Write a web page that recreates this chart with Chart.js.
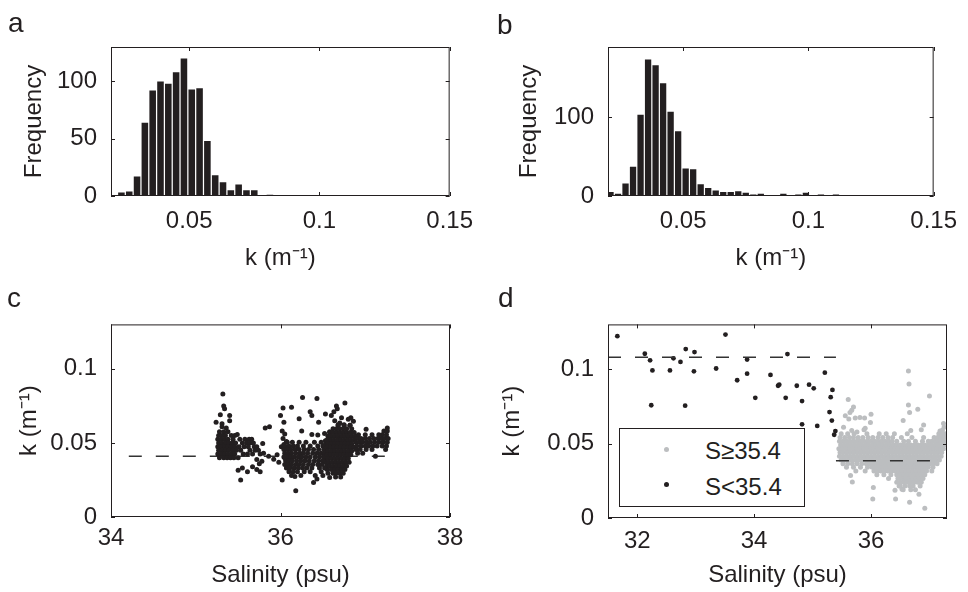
<!DOCTYPE html>
<html lang="en">
<head>
<meta charset="UTF-8">
<title>k histograms and k vs salinity</title>
<script src="https://cdn.jsdelivr.net/npm/chart.js"></script>
<style>
  body { margin: 0; background: #fff; }
  #fig { position: relative; width: 968px; height: 592px; font-family: 'Liberation Sans', Arial, Helvetica, sans-serif; color: #231f20; }
  #fig canvas { position: absolute; }
  .letter { position: absolute; font-size: 28px; line-height: 28px; }
  #legend { position: absolute; left: 619px; top: 428px; width: 186px; height: 79px; box-sizing: border-box;
            border: 1px solid #231f20; background: #fff; }
  .ldot { position: absolute; width: 5px; height: 5px; border-radius: 50%; }
  .ltxt { position: absolute; left: 85px; font-size: 24px; line-height: 24px; white-space: nowrap; }
</style>
</head>
<body>
<div id="fig">
  <canvas id="chartA" width="484" height="296" style="left:0;top:0"></canvas>
  <canvas id="chartB" width="484" height="296" style="left:484px;top:0"></canvas>
  <canvas id="chartC" width="484" height="296" style="left:0;top:296px"></canvas>
  <canvas id="chartD" width="484" height="296" style="left:484px;top:296px"></canvas>

  <div class="letter" style="left:8px;top:9px">a</div>
  <div class="letter" style="left:497px;top:11px">b</div>
  <div class="letter" style="left:7px;top:284px">c</div>
  <div class="letter" style="left:498px;top:284px">d</div>

  <div id="legend">
    <span class="ldot" style="left:44px;top:18px;background:#bcbec0"></span>
    <span class="ltxt" style="top:10px">S≥35.4</span>
    <span class="ldot" style="left:44px;top:53px;background:#231f20"></span>
    <span class="ltxt" style="top:46px">S&lt;35.4</span>
  </div>
</div>

<script>
// ---- histogram a : all stations ----
const binsA = [0.024, 0.027, 0.030, 0.033, 0.036, 0.039, 0.042, 0.045, 0.048, 0.051,
               0.054, 0.057, 0.060, 0.063, 0.066, 0.069, 0.072, 0.075, 0.078, 0.081];
const countsA = [3, 4, 17, 64, 92, 100, 98, 108, 120, 93, 94, 48, 18, 12, 5, 10, 5, 5, 0, 1];

// ---- histogram b ----
const binsB = [0.021, 0.024, 0.027, 0.030, 0.033, 0.036, 0.039, 0.042, 0.045, 0.048, 0.051,
               0.054, 0.057, 0.060, 0.063, 0.066, 0.069, 0.072, 0.075, 0.078, 0.081, 0.084,
               0.087, 0.090, 0.093, 0.096, 0.099, 0.102, 0.105, 0.108, 0.111, 0.114, 0.117,
               0.120, 0.123, 0.126, 0.129, 0.132, 0.135, 0.138, 0.141, 0.144, 0.147, 0.150];
const countsB = [5, 3, 16, 37, 103, 173, 166, 143, 107, 82, 35, 34, 15, 10, 7, 5, 5, 6, 4, 2,
                 3, 0, 1, 3, 0, 2, 4, 0, 2, 0, 2, 0, 0, 0, 1, 0, 0, 0, 0, 0, 0, 0, 0, 1];

// ---- tick labels ----
const kTicksHist = [0.05, 0.1, 0.15];
const freqTicksA = [0, 50, 100];
const freqTicksB = [0, 100];
const salTicksC = [34, 36, 38];
const salTicksD = [32, 34, 36];
const kTicks = [0, 0.05, 0.1];

// ---- panel c : scattered points [salinity, k] ----
const cPoints = [
  [35.32,0.083],[35.33,0.075],[35.34,0.073],[35.29,0.069],[35.40,0.0685],[35.40,0.065],[35.24,0.064],
  [35.31,0.063],[35.31,0.061],[35.36,0.060],[35.49,0.0557],
  [35.79,0.0496],[35.82,0.060],[35.87,0.061],[35.80,0.043],[35.86,0.041],[35.96,0.042],[35.92,0.039],
  [35.98,0.037],[36.05,0.040],
  [35.50,0.0315],[35.55,0.033],[35.61,0.0306],[35.67,0.034],[35.72,0.032],[35.76,0.0306],[35.78,0.0377],
  [35.72,0.0388],[35.75,0.036],[35.53,0.025],[36.02,0.025],[36.18,0.0178],
  [36.03,0.0736],[36.13,0.074],[36.00,0.0685],[36.04,0.064],[36.26,0.0806],[36.22,0.0663],[36.43,0.080],
  [36.66,0.075],[36.67,0.073],[36.63,0.071],[36.60,0.0685],[36.76,0.077],[36.35,0.071],[36.37,0.0685],
  [36.53,0.0696],[36.45,0.064],[36.83,0.067],[36.86,0.0646],
  [36.02,0.058],[36.05,0.056],[36.03,0.053],[36.07,0.051],[36.04,0.049],[36.09,0.047],[36.06,0.046],[36.01,0.0475],
  [36.25,0.058],[36.37,0.0557],[36.44,0.0553],[36.52,0.0564],[36.58,0.0575],[36.68,0.0623],[36.75,0.0623],
  [36.82,0.0619],[37.01,0.0593],
  [36.43,0.0256],[36.39,0.0233],[36.58,0.0266],[36.17,0.0273],[37.12,0.041],[37.26,0.060],
  [36.64,0.065],[36.72,0.067],[36.80,0.066],[36.70,0.0635],
  [36.53,0.0515],[36.53,0.049],[36.535,0.044],[36.53,0.0415],[36.53,0.0395],[36.53,0.037],[36.545,0.0345],
  [36.55,0.032],[36.56,0.0295]
];
// dense parts of panel c, one row per k level: [k, [salinities]]
const cRows = [
  [0.0575, [35.28,35.33,35.38]],
  [0.055,  [35.27,35.31,35.35,35.42,35.46]],
  [0.0525, [35.26,35.30,35.34,35.38,35.44,35.52,35.58,35.63,35.66]],
  [0.050,  [35.27,35.31,35.35,35.39,35.43,35.47,35.55,35.60,35.64,35.68]],
  [0.0475, [35.26,35.30,35.34,35.38,35.42,35.46,35.51,35.57,35.62,35.69,35.72]],
  [0.045,  [35.27,35.31,35.35,35.39,35.44,35.48,35.53,35.64,35.70,35.74]],
  [0.0425, [35.26,35.30,35.34,35.38,35.42,35.46,35.56,35.61,35.67,35.76]],
  [0.040,  [35.28,35.33,35.37,35.41,35.45,35.50]],
  [0.0505, [36.08,36.14,36.22,36.30,36.40,36.48]],
  [0.048,  [36.05,36.10,36.15,36.20,36.27,36.35,36.44,36.50]],
  [0.0455, [36.04,36.08,36.12,36.17,36.22,36.28,36.33,36.39,36.45,36.51]],
  [0.043,  [36.05,36.09,36.13,36.18,36.23,36.27,36.32,36.38,36.43,36.48,36.52]],
  [0.0405, [36.04,36.08,36.12,36.16,36.21,36.25,36.30,36.35,36.41,36.46,36.51]],
  [0.038,  [36.06,36.10,36.14,36.19,36.24,36.29,36.34,36.40,36.45,36.50]],
  [0.0355, [36.05,36.09,36.13,36.18,36.22,36.27,36.33,36.38,36.44,36.49]],
  [0.033,  [36.07,36.11,36.16,36.21,36.26,36.31,36.37,36.46,36.52]],
  [0.0305, [36.10,36.15,36.20,36.28,36.35,36.48]],
  [0.028,  [36.13,36.24,36.41,36.50]],
  [0.062,  [36.68,36.75,36.82]],
  [0.0595, [36.62,36.66,36.70,36.74,36.78,36.84]],
  [0.057,  [36.58,36.62,36.66,36.70,36.74,36.78,36.82,36.87]],
  [0.0545, [36.56,36.60,36.64,36.68,36.72,36.76,36.80,36.84,36.88]],
  [0.052,  [36.55,36.59,36.63,36.67,36.71,36.75,36.79,36.83,36.87]],
  [0.0495, [36.56,36.60,36.64,36.68,36.72,36.76,36.80,36.84]],
  [0.047,  [36.55,36.59,36.63,36.67,36.71,36.75,36.79,36.83,36.87]],
  [0.0445, [36.56,36.60,36.64,36.68,36.72,36.76,36.80,36.84]],
  [0.042,  [36.55,36.59,36.63,36.67,36.71,36.75,36.79,36.83]],
  [0.0395, [36.56,36.60,36.64,36.68,36.72,36.76,36.80]],
  [0.037,  [36.57,36.61,36.65,36.69,36.73,36.77,36.81]],
  [0.0345, [36.58,36.62,36.66,36.70,36.74,36.78]],
  [0.032,  [36.60,36.64,36.68,36.72,36.76]],
  [0.0295, [36.62,36.66,36.70,36.74]],
  [0.027,  [36.65,36.71]],
  [0.058,  [37.22,37.26]],
  [0.0555, [36.92,37.00,37.08,37.16,37.20,37.25]],
  [0.053,  [36.90,36.95,37.00,37.05,37.10,37.15,37.19,37.23,37.27]],
  [0.0505, [36.89,36.93,36.97,37.02,37.06,37.11,37.16,37.21,37.26]],
  [0.048,  [36.90,36.95,37.00,37.04,37.09,37.14,37.20,37.25]],
  [0.0455, [36.89,36.94,37.01,37.08,37.24]],
  [0.043,  [36.91,36.97]]
];
const cMeanLine = [[34.21, 0.041], [37.29, 0.041]];

// ---- panel d ----
const dLow = [
  [31.66,0.1221],[32.13,0.1103],[32.22,0.1059],[32.26,0.0991],[32.24,0.0757],[32.56,0.0991],[32.62,0.1072],
  [32.74,0.1048],[32.83,0.1134],[32.82,0.0754],[32.98,0.1114],[32.97,0.0985],[33.35,0.1004],[33.51,0.1232],
  [33.71,0.0925],[33.88,0.1064],[33.88,0.0969],[34.02,0.0807],[34.28,0.0961],[34.41,0.0888],[34.43,0.0895],
  [34.54,0.0807],[34.57,0.1101],[34.73,0.0888],[34.82,0.0785],[34.82,0.0629],[34.94,0.0895],[35.02,0.0871],
  [35.08,0.0618],[35.21,0.0976],[35.34,0.0860],[35.31,0.0811],[35.29,0.0711],[35.33,0.0654],[35.37,0.0559],
  [35.39,0.0584]
];
const dHighPoints = [
  [35.61,0.0796],[35.70,0.0746],[35.67,0.0724],[35.64,0.0708],[35.56,0.0686],[35.62,0.0665],[35.73,0.0671],
  [35.81,0.0675],[35.89,0.0671],[36.00,0.0697],[35.99,0.0641],[35.53,0.0610],[35.67,0.0588],[35.76,0.0577],
  [35.88,0.0592],[35.90,0.0603],[36.64,0.0759],[36.66,0.0708],[36.80,0.0730],[37.00,0.0820],[36.55,0.0654],
  [36.68,0.0588],[36.86,0.0592],[36.64,0.0987],[36.65,0.0900],[36.90,0.0625],
  [35.65,0.0285],[35.68,0.0241],[36.04,0.0204],[36.03,0.0127],[36.42,0.0127],[36.66,0.0105],[36.82,0.0160],
  [36.92,0.0066],[36.50,0.0215],[36.53,0.0193],[36.41,0.0186],
  [37.22,0.059],[37.25,0.061],[37.24,0.0635],[37.18,0.0585]
];
const dHighRows = [
  [0.0565, [35.49,35.60,35.71,35.93,36.14,36.26,36.40,36.62,37.16,37.22,37.26]],
  [0.054,  [35.47,35.55,35.63,35.70,35.78,35.86,35.95,36.03,36.12,36.20,36.29,36.37,36.52,36.70,36.90,37.08,37.14,37.20,37.25]],
  [0.0515, [35.46,35.52,35.58,35.64,35.70,35.76,35.82,35.88,35.94,36.00,36.06,36.12,36.18,36.24,36.30,36.36,36.44,36.56,36.64,36.76,36.88,36.98,37.04,37.10,37.15,37.20,37.25]],
  [0.049,  [35.48,35.54,35.60,35.66,35.72,35.78,35.84,35.90,35.96,36.02,36.08,36.14,36.20,36.26,36.32,36.38,36.44,36.50,36.56,36.62,36.68,36.74,36.80,36.86,36.92,36.98,37.04,37.10,37.16,37.22,37.26]],
  [0.0465, [35.45,35.51,35.57,35.63,35.69,35.75,35.81,35.87,35.93,35.99,36.05,36.11,36.17,36.23,36.29,36.35,36.41,36.47,36.53,36.59,36.65,36.71,36.77,36.83,36.89,36.95,37.01,37.07,37.13,37.19,37.24]],
  [0.044,  [35.47,35.53,35.59,35.65,35.71,35.77,35.83,35.89,35.95,36.01,36.07,36.13,36.19,36.25,36.31,36.37,36.43,36.49,36.55,36.61,36.67,36.73,36.79,36.85,36.91,36.97,37.03,37.09,37.15,37.21]],
  [0.0415, [35.46,35.52,35.58,35.64,35.70,35.76,35.82,35.88,35.94,36.00,36.06,36.12,36.18,36.24,36.30,36.36,36.42,36.48,36.54,36.60,36.66,36.72,36.78,36.84,36.90,36.96,37.02,37.08,37.14,37.20]],
  [0.039,  [35.49,35.55,35.61,35.67,35.73,35.79,35.85,35.91,35.97,36.03,36.09,36.15,36.21,36.27,36.33,36.39,36.45,36.51,36.57,36.63,36.69,36.75,36.81,36.87,36.93,36.99,37.05,37.11,37.17]],
  [0.0365, [35.52,35.60,35.68,35.76,35.84,35.92,35.98,36.04,36.10,36.16,36.22,36.28,36.34,36.40,36.46,36.52,36.58,36.64,36.70,36.76,36.82,36.88,36.94,37.00,37.06,37.13]],
  [0.034,  [35.58,35.70,35.82,35.94,36.02,36.08,36.14,36.20,36.26,36.32,36.38,36.44,36.50,36.56,36.62,36.68,36.74,36.80,36.86,36.92,36.98,37.06]],
  [0.0315, [35.74,35.90,36.05,36.11,36.17,36.23,36.29,36.35,36.41,36.47,36.53,36.59,36.65,36.71,36.77,36.83,36.89,36.95,37.04]],
  [0.029,  [36.10,36.22,36.34,36.44,36.50,36.56,36.62,36.68,36.74,36.80,36.86,36.92]],
  [0.0265, [36.30,36.46,36.53,36.59,36.65,36.71,36.77,36.83,36.89]],
  [0.024,  [36.44,36.50,36.56,36.62,36.68,36.74,36.80,36.86]],
  [0.0215, [36.48,36.58,36.66,36.72,36.84]],
  [0.019,  [36.55,36.68,36.76]]
];
const dMeanLow = [[31.5, 0.108], [35.4, 0.108]];
const dMeanHigh = [[35.4, 0.0385], [37.06, 0.0385]];

// ------------------------------------------------------------
const INK = '#231f20';
const GREY = '#bcbec0';
const DASH = '#333333';

Chart.defaults.font.family = "'Liberation Sans', Arial, Helvetica, sans-serif";
Chart.defaults.font.size = 24;
Chart.defaults.color = INK;

function pairs(list) { return list.map(p => ({ x: p[0], y: p[1] })); }
function rows(list) {
  const out = [];
  list.forEach(r => r[1].forEach(s => out.push({ x: s, y: r[0] })));
  return out;
}

// box round the axes plus inward tick marks, like matlab
const axesBox = {
  id: 'axesBox',
  afterDatasetsDraw(chart) {
    const { ctx, chartArea: a, scales: { x, y } } = chart;
    const tl = 4;
    ctx.save();
    ctx.strokeStyle = INK;
    ctx.lineWidth = 1;
    ctx.beginPath();
    x.ticks.forEach(t => {
      const px = Math.round(x.getPixelForValue(t.value)) + 0.5;
      ctx.moveTo(px, a.bottom); ctx.lineTo(px, a.bottom - tl);
      ctx.moveTo(px, a.top); ctx.lineTo(px, a.top + tl);
    });
    y.ticks.forEach(t => {
      const py = Math.round(y.getPixelForValue(t.value)) + 0.5;
      ctx.moveTo(a.left, py); ctx.lineTo(a.left + tl, py);
      ctx.moveTo(a.right, py); ctx.lineTo(a.right - tl, py);
    });
    ctx.stroke();
    ctx.strokeRect(a.left + 0.5, a.top + 0.5, a.right - a.left - 1, a.bottom - a.top - 1);
    ctx.restore();
  }
};

function makeOptions(p) {
  return {
    responsive: false,
    animation: false,
    events: [],
    layout: { padding: { left: 0, top: p.top, right: 484 - p.right, bottom: 0 } },
    plugins: { legend: { display: false }, tooltip: { enabled: false } },
    scales: {
      x: {
        type: 'linear', min: p.xmin, max: p.xmax, offset: false,
        grid: { display: false, drawTicks: false, offset: false }, border: { display: false },
        ticks: { padding: p.xTickPad, maxRotation: 0, autoSkip: false, callback: v => String(v) },
        afterBuildTicks: s => { s.ticks = p.xTicks.map(v => ({ value: v })); },
        afterFit: s => { s.height = 296 - p.bottom; },
        title: { display: true, text: p.xTitle, padding: { top: 0, bottom: p.xTitlePad } }
      },
      y: {
        type: 'linear', min: p.ymin, max: p.ymax,
        grid: { display: false, drawTicks: false }, border: { display: false },
        ticks: { padding: 14, autoSkip: false, callback: v => String(v) },
        afterBuildTicks: s => { s.ticks = p.yTicks.map(v => ({ value: v })); },
        afterFit: s => { s.width = p.left; },
        title: { display: true, text: p.yTitle, padding: { top: p.yTitlePad, bottom: 0 } }
      }
    }
  };
}

function barSet(bins, counts) {
  return {
    data: bins.map((k, i) => ({ x: k, y: counts[i] })),
    backgroundColor: INK, borderWidth: 0,
    barPercentage: 0.84, categoryPercentage: 1, clip: 0
  };
}

function dashSet(line) {
  return {
    data: pairs(line), showLine: true, pointRadius: 0,
    borderColor: DASH, borderWidth: 1.5, borderDash: [13, 14]
  };
}

// a
new Chart(document.getElementById('chartA'), {
  type: 'bar',
  data: { datasets: [barSet(binsA, countsA)] },
  options: makeOptions({
    left: 111, top: 47, right: 450, bottom: 196,
    xmin: 0.02, xmax: 0.15, xTicks: kTicksHist, xTickPad: 11, xTitle: 'k (m⁻¹)', xTitlePad: 23,
    ymin: 0, ymax: 130, yTicks: freqTicksA, yTitle: 'Frequency', yTitlePad: 20
  }),
  plugins: [axesBox]
});

// b
new Chart(document.getElementById('chartB'), {
  type: 'bar',
  data: { datasets: [barSet(binsB, countsB)] },
  options: makeOptions({
    left: 124, top: 47, right: 463, bottom: 196,
    xmin: 0.02, xmax: 0.15, xTicks: kTicksHist, xTickPad: 11, xTitle: 'k (m⁻¹)', xTitlePad: 23,
    ymin: 0, ymax: 189, yTicks: freqTicksB, yTitle: 'Frequency', yTitlePad: 31
  }),
  plugins: [axesBox]
});

// c
new Chart(document.getElementById('chartC'), {
  type: 'scatter',
  data: {
    datasets: [
      { data: pairs(cPoints).concat(rows(cRows)), backgroundColor: INK, borderWidth: 0, pointRadius: 2.5 },
      dashSet(cMeanLine)
    ]
  },
  options: makeOptions({
    left: 111, top: 24, right: 450, bottom: 221,
    xmin: 34, xmax: 38, xTicks: salTicksC, xTickPad: 7, xTitle: 'Salinity (psu)', xTitlePad: 2,
    ymin: 0, ymax: 0.13, yTicks: kTicks, yTitle: 'k (m⁻¹)', yTitlePad: 15
  }),
  plugins: [axesBox]
});

// d
new Chart(document.getElementById('chartD'), {
  type: 'scatter',
  data: {
    datasets: [
      dashSet(dMeanHigh),
      dashSet(dMeanLow),
      { data: pairs(dLow), backgroundColor: INK, borderWidth: 0, pointRadius: 2.4 },
      { data: pairs(dHighPoints).concat(rows(dHighRows)), backgroundColor: GREY, borderWidth: 0, pointRadius: 2.5 }
    ]
  },
  options: makeOptions({
    left: 124, top: 23, right: 463, bottom: 222,
    xmin: 31.5, xmax: 37.3, xTicks: salTicksD, xTickPad: 9, xTitle: 'Salinity (psu)', xTitlePad: 2,
    ymin: 0, ymax: 0.13, yTicks: kTicks, yTitle: 'k (m⁻¹)', yTitlePad: 14
  }),
  plugins: [axesBox]
});
</script>
</body>
</html>
